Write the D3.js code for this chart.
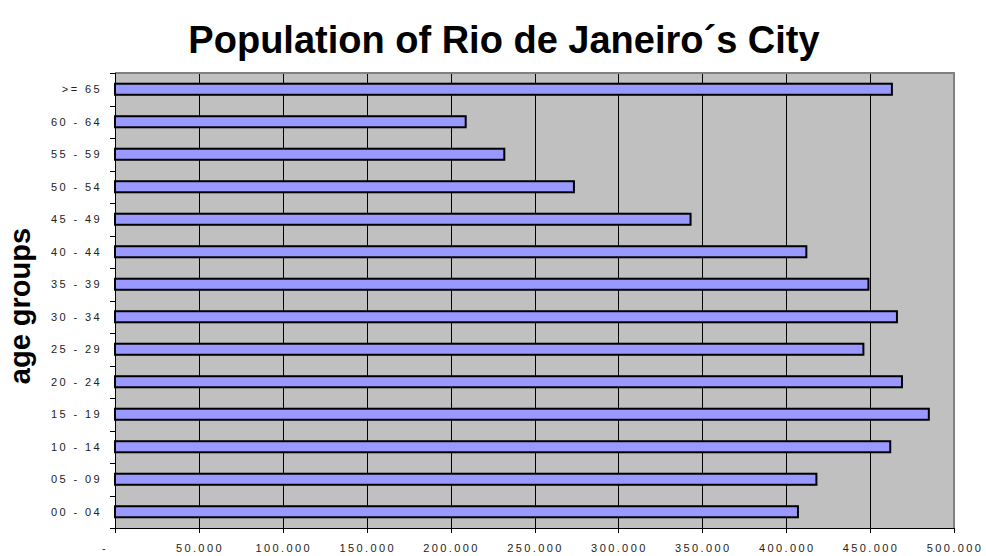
<!DOCTYPE html>
<html>
<head>
<meta charset="utf-8">
<script src="https://cdn.jsdelivr.net/npm/d3@7"></script>
<style>
  body { margin: 0; background: #fff; }
  svg { display: block; font-family: "Liberation Sans", Arial, sans-serif; }
  .tick-label { font-size: 11px; fill: #222; letter-spacing: 2.4px; }
</style>
</head>
<body>
<svg id="chart" width="986" height="556"></svg>
<script>
// ── Data ──
const ageGroups = ["00 - 04", "05 - 09", "10 - 14", "15 - 19", "20 - 24", "25 - 29", "30 - 34",
                   "35 - 39", "40 - 44", "45 - 49", "50 - 54", "55 - 59", "60 - 64", ">= 65"];
const population = [407000, 418000, 462000, 485000, 469000, 446000, 466000,
                    449000, 412000, 343000, 273500, 232000, 209000, 463000];
const xTicks = [0, 50000, 100000, 150000, 200000, 250000, 300000, 350000, 400000, 450000, 500000];

const svg = d3.select("#chart");

// plot area
const plotL = 115, plotR = 954, plotT = 73, plotB = 528;

const x = d3.scaleLinear().domain([0, 500000]).range([plotL, plotR]);

// top of chart = last group, so reverse the domain
const yOuter = d3.scaleBand()
  .domain(ageGroups.slice().reverse())
  .range([plotT, plotB]);

const y = d3.scaleBand()
  .domain(ageGroups.slice().reverse())
  .range([plotT, plotB])
  .paddingInner(0.66)
  .paddingOuter(0.33);

const ptBr = d3.formatLocale({ decimal: ",", thousands: ".", grouping: [3], currency: ["", ""] });
const fmt = v => v === 0 ? "-" : ptBr.format(",.0f")(v);

// ── Title ──
svg.append("text")
  .attr("x", 504)
  .attr("y", 53)
  .attr("text-anchor", "middle")
  .style("font-size", "38px")
  .style("font-weight", "bold")
  .text("Population of Rio de Janeiro´s City");

// axis title
svg.append("text")
  .attr("transform", "translate(30,306) rotate(-90)")
  .attr("text-anchor", "middle")
  .style("font-size", "29px")
  .style("font-weight", "bold")
  .text("age groups");

// ── Plot background ──
svg.append("rect")
  .attr("x", plotL)
  .attr("y", plotT)
  .attr("width", plotR - plotL)
  .attr("height", plotB - plotT)
  .attr("fill", "#c0c0c0");

// vertical gridlines
svg.append("g")
  .selectAll("line")
  .data(xTicks.filter(d => d > 0 && d < 500000))
  .join("line")
  .attr("x1", d => Math.round(x(d)) + 0.5)
  .attr("x2", d => Math.round(x(d)) + 0.5)
  .attr("y1", plotT)
  .attr("y2", plotB)
  .attr("stroke", "#000")
  .attr("stroke-width", 1);

// grey frame on top and right
svg.append("path")
  .attr("d", `M${plotL},${plotT} H${plotR} V${plotB}`)
  .attr("fill", "none")
  .attr("stroke", "#808080")
  .attr("stroke-width", 2);

// ── Bars ──
svg.append("g")
  .selectAll("rect")
  .data(ageGroups.map((g, i) => ({ group: g, value: population[i] })))
  .join("rect")
  .attr("x", x(0))
  .attr("y", d => y(d.group))
  .attr("width", d => x(d.value) - x(0))
  .attr("height", y.bandwidth())
  .attr("fill", "#9999ff")
  .attr("stroke", "#000")
  .attr("stroke-width", 2);

// ── Axes ──
const yAxis = svg.append("g");
yAxis.append("line")
  .attr("x1", plotL + 0.5).attr("x2", plotL + 0.5)
  .attr("y1", plotT).attr("y2", plotB + 5)
  .attr("stroke", "#000");
yAxis.selectAll(".ytick")
  .data(yOuter.domain().concat(["_end"]))
  .join("line")
  .attr("class", "ytick")
  .attr("x1", plotL - 5).attr("x2", plotL)
  .attr("y1", (d, i) => Math.round(plotT + i * yOuter.step()) + 0.5)
  .attr("y2", (d, i) => Math.round(plotT + i * yOuter.step()) + 0.5)
  .attr("stroke", "#000");
yAxis.selectAll(".ylabel")
  .data(yOuter.domain())
  .join("text")
  .attr("class", "tick-label")
  .attr("x", 102)
  .attr("y", d => yOuter(d) + yOuter.bandwidth() / 2)
  .attr("dy", "0.35em")
  .attr("text-anchor", "end")
  .text(d => d);

const xAxis = svg.append("g");
xAxis.append("line")
  .attr("x1", plotL).attr("x2", plotR)
  .attr("y1", plotB + 0.5).attr("y2", plotB + 0.5)
  .attr("stroke", "#000");
xAxis.selectAll(".xtick")
  .data(xTicks)
  .join("line")
  .attr("class", "xtick")
  .attr("x1", d => Math.round(x(d)) + 0.5)
  .attr("x2", d => Math.round(x(d)) + 0.5)
  .attr("y1", plotB).attr("y2", plotB + 5)
  .attr("stroke", "#000");
xAxis.selectAll(".xlabel")
  .data(xTicks)
  .join("text")
  .attr("class", "tick-label")
  .attr("x", d => d === 0 ? x(d) - 10 : x(d) + 1)
  .attr("y", 552)
  .attr("text-anchor", "middle")
  .text(d => fmt(d));
</script>
</body>
</html>
